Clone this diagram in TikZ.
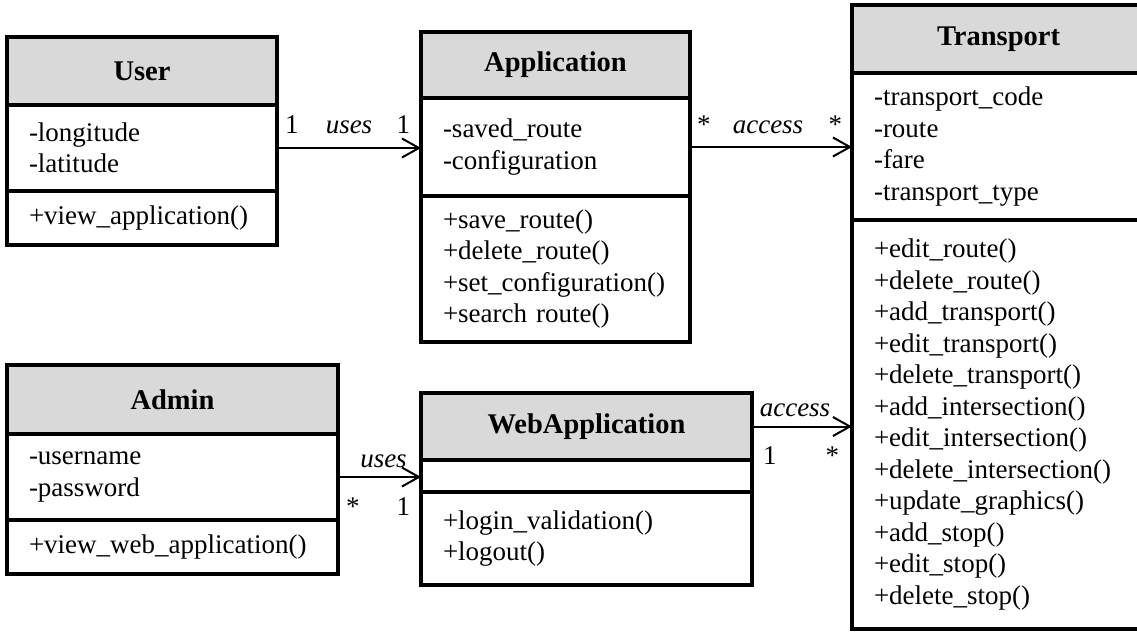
\documentclass[tikz,border=0pt]{standalone}
\usepackage{fontspec}
\setmainfont{Liberation Serif}
\usetikzlibrary{positioning,arrows.meta}
\definecolor{headgray}{RGB}{217,217,217}
\tikzset{
  classhead/.style={draw, fill=headgray, line width=3.5pt, anchor=north west, inner xsep=22pt, inner ysep=0pt, outer sep=0pt, align=center, font=\fontsize{28.5}{31.5}\selectfont\bfseries},
  classpart/.style={draw, line width=3.5pt, inner xsep=22pt, inner ysep=0pt, outer sep=0pt, align=left, font=\fontsize{27}{31.5}\selectfont},
  assoc/.style={line width=2pt, -{Straight Barb[length=17pt, width=19pt]}},
  mult/.style={inner sep=0pt, font=\fontsize{27}{31.5}\selectfont},
  role/.style={inner sep=0pt, font=\fontsize{27}{31.5}\selectfont\itshape}
}
\begin{document}
\begin{tikzpicture}[x=1pt, y=-1pt]
\useasboundingbox (0,0) rectangle (1137,632);
\node (userhead) [classhead, text width=226pt, minimum height=68pt] at (7,37) {User};
\node (userattr) [classpart, text width=226pt, minimum height=86pt, below=0pt of userhead] {-longitude\\-latitude};
\node (userops) [classpart, text width=226pt, minimum height=54pt, below=0pt of userattr] {+view\_application()};
\node (apphead) [classhead, text width=225pt, minimum height=66pt] at (421,32) {Application};
\node (appattr) [classpart, text width=225pt, minimum height=98pt, below=0pt of apphead] {-saved\_route\\-configuration};
\node (appops) [classpart, text width=225pt, minimum height=146pt, below=0pt of appattr] {+save\_route()\\+delete\_route()\\+set\_configuration()\\+search route()};
\node (transhead) [classhead, text width=249pt, minimum height=68pt] at (852,5) {Transport};
\node (transattr) [classpart, text width=249pt, minimum height=147pt, below=0pt of transhead] {-transport\_code\\-route\\-fare\\-transport\_type};
\node (transops) [classpart, text width=249pt, minimum height=409pt, below=0pt of transattr] {+edit\_route()\\+delete\_route()\\+add\_transport()\\+edit\_transport()\\+delete\_transport()\\+add\_intersection()\\+edit\_intersection()\\+delete\_intersection()\\+update\_graphics()\\+add\_stop()\\+edit\_stop()\\+delete\_stop()};
\node (adminhead) [classhead, text width=287pt, minimum height=69pt] at (7,365) {Admin};
\node (adminattr) [classpart, text width=287pt, minimum height=86pt, below=0pt of adminhead] {-username\\-password};
\node (adminops) [classpart, text width=287pt, minimum height=54pt, below=0pt of adminattr] {+view\_web\_application()};
\node (webhead) [classhead, text width=287pt, minimum height=67pt] at (421,393) {WebApplication};
\node (webattr) [classpart, text width=287pt, minimum height=32pt, below=0pt of webhead] {};
\node (webops) [classpart, text width=287pt, minimum height=93pt, below=0pt of webattr] {+login\_validation()\\+logout()};
\draw [assoc] (userattr.east) -- (userattr.east -| appattr.west)
  node (useone) [mult, pos=0, anchor=base west, xshift=7pt, yshift=15pt] {1}
  node (useslbl) [role, midway, anchor=base, yshift=15pt] {uses}
  node (appone) [mult, pos=1, anchor=base east, xshift=-10pt, yshift=15pt] {1};
\draw [assoc] (appattr.east) -- (appattr.east -| transattr.west)
  node (appmany) [mult, pos=0, anchor=base west, xshift=6pt, yshift=14pt] {*}
  node (accesslbl) [role, midway, anchor=base, xshift=-3pt, yshift=14pt] {access}
  node (transmany) [mult, pos=1, anchor=base east, xshift=-9pt, yshift=14pt] {*};
\draw [assoc] (adminattr.east) -- (adminattr.east -| webattr.west)
  node (adminmany) [mult, pos=0, anchor=base west, xshift=7pt, yshift=-38pt] {*}
  node (adminuses) [role, midway, anchor=base, xshift=4pt, yshift=10pt] {uses}
  node (webone) [mult, pos=1, anchor=base east, xshift=-10pt, yshift=-38pt] {1};
\draw [assoc] (webhead.east) -- (webhead.east -| transops.west)
  node (webaccone) [mult, pos=0, anchor=base west, xshift=10pt, yshift=-38pt] {1}
  node (webaccess) [role, midway, anchor=base, xshift=-7pt, yshift=10pt] {access}
  node (transmanyb) [mult, pos=1, anchor=base east, xshift=-12pt, yshift=-38pt] {*};
\end{tikzpicture}
\end{document}
